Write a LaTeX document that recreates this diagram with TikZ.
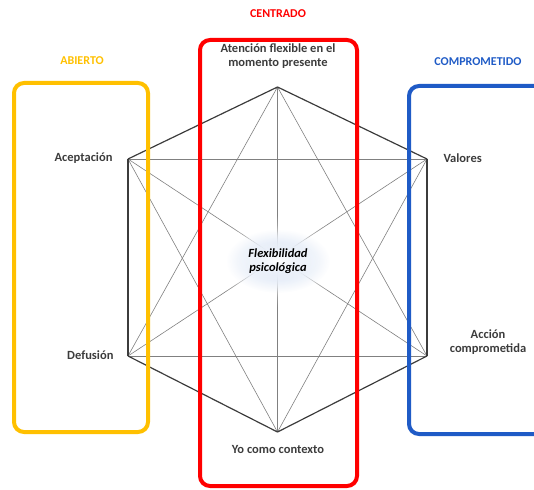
\documentclass[tikz,border=0pt]{standalone}
\usepackage{fontspec}
\setmainfont{Carlito}
\usetikzlibrary{fadings}
\definecolor{txt}{HTML}{3C3C3C}
\definecolor{abierto}{HTML}{FFC000}
\definecolor{centrado}{HTML}{FF0000}
\definecolor{compr}{HTML}{1F5BC6}
\definecolor{glow}{HTML}{C8D8F0}
\tikzfading[name = softglow, inner color = transparent!0, outer color = transparent!100]

\begin{document}
\begin{tikzpicture}[
      x = 1pt, y = -1pt,
      every node/.style = {
        text = txt, align = center, font = \bfseries\fontsize{12.5}{14.5}\selectfont},
      title/.style = {font = \bfseries\fontsize{12}{14}\selectfont},
      outer/.style = {draw = txt, line width = 1.2pt},
      inner/.style = {draw = gray, line width = .6pt},
      box/.style = {draw, line width = 4pt, rounded corners = 10pt}
      ]
    \useasboundingbox (0,0) rectangle (534,489);

    \coordinate (P) at (277.5,87); % 0
    \coordinate (A) at (128,159); % 1
    \coordinate (D) at (128,356); % 2
    \coordinate (Y) at (277.5,432); % 3
    \coordinate (V) at (427,159); % 4
    \coordinate (C) at (427,356); % 5

    \draw[inner] (P)--(Y);
    \draw[inner] (P)--(D);
    \draw[inner] (P)--(C);
    \draw[inner] (A)--(V);
    \draw[inner] (A)--(C);
    \draw[inner] (A)--(Y);
    \draw[inner] (D)--(V);
    \draw[inner] (D)--(C);
    \draw[inner] (V)--(Y);

    % halo
    \fill[white, path fading = softglow] (278,261) ellipse (70 and 46);
    \fill[white, path fading = softglow] (278,261) ellipse (58 and 36);
    \fill[white, path fading = softglow] (278,261) ellipse (50 and 30);
    \fill[glow, path fading = softglow] (278,261) ellipse (52 and 32);
    \fill[white, path fading = softglow] (278,261) ellipse (42 and 20);

    \draw[outer] (P)--(A);
    \draw[outer] (A)--(D);
    \draw[outer] (D)--(Y);
    \draw[outer] (Y)--(C);
    \draw[outer] (C)--(V);
    \draw[outer] (V)--(P);

    \draw[box, abierto] (14,83) rectangle (148,432);
    \draw[box, centrado] (200,40) rectangle (357,486);
    \draw[box, compr] (409,86) rectangle (570,434);

    \node[title, text = abierto] (tAb) at (82,61) {ABIERTO};
    \node[title, text = centrado] (tCe) at (278,14) {CENTRADO};
    \node[title, text = compr] (tCo) at (478,62) {COMPROMETIDO};

    \node (lP) at (278,56) {Atención flexible en el\\momento presente};
    \node[anchor = east] (lA) at (116,158) {Aceptación};
    \node[anchor = east] (lD) at (117,355) {Defusión};
    \node[anchor = west] (lV) at (440,158) {Valores};
    \node (lC) at (488,342) {Acción\\comprometida};
    \node (lY) at (278,449) {Yo como contexto};
    \node[text = black, font = \bfseries\itshape\fontsize{12.5}{14.5}\selectfont] (flex) at (278,261) {Flexibilidad\\psicológica};
  \end{tikzpicture}
\end{document}
